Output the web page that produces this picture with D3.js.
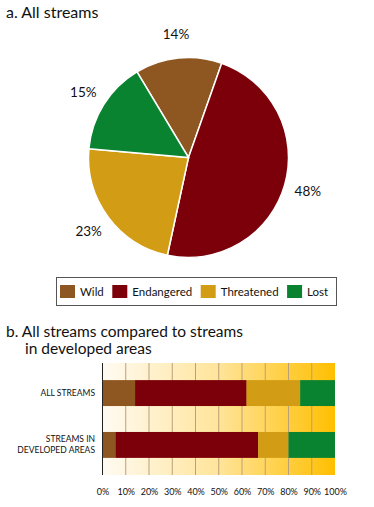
<!DOCTYPE html>
<html>
<head>
<meta charset="utf-8">
<script src="https://cdn.jsdelivr.net/npm/d3@7"></script>
<style>
  body { margin: 0; background: #fff; }
  svg { display: block; font-family: Lato, "Open Sans", sans-serif; }
</style>
</head>
<body>
<div id="chart"></div>
<script>
// stream condition data
var categories = ["Wild", "Endangered", "Threatened", "Lost"];
var colors = ["#8E5620", "#7B0009", "#D29D14", "#0A8330"];
var allStreams = [14, 48, 23, 15];
var developedStreams = [5.5, 61.5, 13, 20];
var groups = ["ALL STREAMS", "STREAMS IN|DEVELOPED AREAS"];
var tickValues = [0, 10, 20, 30, 40, 50, 60, 70, 80, 90, 100];

var W = 374, H = 507;
var svg = d3.select("#chart").append("svg")
  .attr("width", W)
  .attr("height", H);

var color = d3.scaleOrdinal().domain(categories).range(colors);

// ---- a. pie ----
svg.append("text")
  .attr("x", 6).attr("y", 18)
  .attr("font-size", 16)
  .attr("fill", "#111")
  .text("a. All streams");

var cx = 188.5, cy = 157.5, r = 100;
var pie = d3.pie().sort(null)
  .startAngle(-31 * Math.PI / 180)
  .endAngle(329 * Math.PI / 180);
var arcs = pie(allStreams);
var arc = d3.arc().innerRadius(0).outerRadius(r);
var labelArc = d3.arc().innerRadius(124).outerRadius(124);

var pg = svg.append("g").attr("transform", "translate(" + cx + "," + cy + ")");
pg.selectAll("path")
  .data(arcs)
  .enter()
  .append("path")
  .attr("d", arc)
  .attr("fill", function(d, i) { return color(categories[i]); })
  .attr("stroke", "#fff")
  .attr("stroke-width", 1.5);

pg.selectAll(".lbl")
  .data(arcs)
  .enter()
  .append("text")
  .attr("class", "lbl")
  .attr("transform", function(d) { return "translate(" + labelArc.centroid(d) + ")"; })
  .attr("text-anchor", "middle")
  .attr("dy", "0.35em")
  .attr("font-size", 13.5)
  .attr("fill", "#111")
  .text(function(d) { return d.data + "%"; });

// legend
var lg = svg.append("g");
lg.append("rect")
  .attr("x", 56.5).attr("y", 277.5)
  .attr("width", 280).attr("height", 28)
  .attr("fill", "#fff")
  .attr("stroke", "#555")
  .attr("stroke-width", 1);

var lx = 60;
categories.forEach(function(c) {
  lg.append("rect")
    .attr("x", lx).attr("y", 285)
    .attr("width", 15).attr("height", 13)
    .attr("fill", color(c));
  var t = lg.append("text")
    .attr("x", lx + 20).attr("y", 296)
    .attr("font-size", 11.5)
    .attr("fill", "#111")
    .text(c);
  lx = lx + 20 + t.node().getComputedTextLength() + 8.5;
});

// ---- b. stacked bars ----
var tb = svg.append("text")
  .attr("font-size", 15.5)
  .attr("fill", "#111");
tb.append("tspan").attr("x", 6).attr("y", 337).text("b. All streams compared to streams");
tb.append("tspan").attr("x", 25).attr("y", 354).text("in developed areas");

var x = d3.scaleLinear().domain([0, 100]).range([102.5, 335]);
var y = d3.scaleBand().domain(groups).range([363, 475])
  .paddingInner(0.5).paddingOuter(0.33);

var defs = svg.append("defs");
var grad = defs.append("linearGradient")
  .attr("id", "bg").attr("x1", "0").attr("x2", "1").attr("y1", "0").attr("y2", "0");
grad.append("stop").attr("offset", "0").attr("stop-color", "#FFFBF3");
grad.append("stop").attr("offset", "0.5").attr("stop-color", "#FFE49A");
grad.append("stop").attr("offset", "1").attr("stop-color", "#FFBF00");

svg.append("rect")
  .attr("x", x(0)).attr("y", 363)
  .attr("width", x(100) - x(0)).attr("height", 112)
  .attr("fill", "url(#bg)");

// gridlines
svg.append("g").selectAll("line")
  .data(tickValues.slice(1, -1))
  .enter()
  .append("line")
  .attr("x1", function(d) { return x(d); })
  .attr("x2", function(d) { return x(d); })
  .attr("y1", 363).attr("y2", 475)
  .attr("stroke", "#B9A078")
  .attr("stroke-width", 1);

var rows = [allStreams, developedStreams];
var stackData = rows.map(function(vals, gi) {
  var o = { group: groups[gi] };
  categories.forEach(function(c, i) { o[c] = vals[i]; });
  return o;
});
var series = d3.stack().keys(categories)(stackData);

svg.append("g").selectAll("g")
  .data(series)
  .enter()
  .append("g")
  .attr("fill", function(d) { return color(d.key); })
  .selectAll("rect")
  .data(function(d) { return d; })
  .enter()
  .append("rect")
  .attr("x", function(d) { return x(d[0]); })
  .attr("width", function(d) { return x(d[1]) - x(d[0]); })
  .attr("y", function(d) { return y(d.data.group); })
  .attr("height", y.bandwidth());

// left axis line
svg.append("line")
  .attr("x1", x(0)).attr("x2", x(0))
  .attr("y1", 363).attr("y2", 475)
  .attr("stroke", "#222")
  .attr("stroke-width", 1);

// row labels
svg.append("g").selectAll("text")
  .data(groups)
  .enter()
  .append("text")
  .attr("text-anchor", "end")
  .attr("font-size", 8.5)
  .attr("fill", "#111")
  .each(function(d) {
    var lines = d.split("|");
    var mid = y(d) + y.bandwidth() / 2;
    var t = d3.select(this);
    lines.forEach(function(l, i) {
      t.append("tspan")
        .attr("x", 95)
        .attr("y", mid + 3 + (i - (lines.length - 1) / 2) * 11)
        .text(l);
    });
  });

// x axis labels
var xAxis = d3.axisBottom(x)
  .tickValues(tickValues)
  .tickSize(0)
  .tickFormat(function(d) { return d + "%"; });
var ax = svg.append("g")
  .attr("transform", "translate(0,486)")
  .call(xAxis);
ax.select(".domain").remove();
ax.selectAll("text")
  .attr("font-family", "Lato, sans-serif")
  .attr("font-size", 9)
  .attr("fill", "#111");
</script>
</body>
</html>
